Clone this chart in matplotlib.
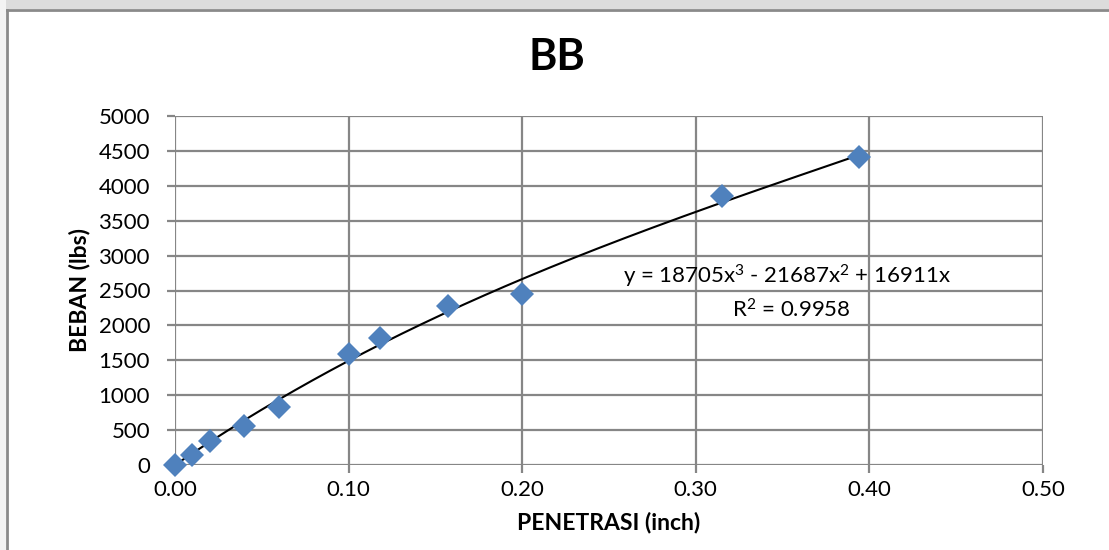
import numpy as np
import matplotlib.pyplot as plt
from matplotlib.patches import Rectangle

plt.rcParams['font.family'] = ['Lato', 'DejaVu Sans']
plt.rcParams['mathtext.fontset'] = 'custom'
plt.rcParams['mathtext.rm'] = 'Lato'
plt.rcParams['mathtext.it'] = 'Lato'

# data
penetrasi = [0.0, 0.01, 0.02, 0.04, 0.06, 0.10, 0.118, 0.157, 0.20, 0.315, 0.394]
beban = [0, 150, 345, 560, 830, 1590, 1815, 2280, 2450, 3855, 4415]

# trendline coefficients shown on the chart (3rd order, zero intercept)
coef = [18705, -21687, 16911, 0]
xticks = [0.0, 0.1, 0.2, 0.3, 0.4, 0.5]
yticks = list(range(0, 5001, 500))

fig = plt.figure(figsize=(11.09, 5.5), dpi=100)
fig.patch.set_facecolor('white')

# gray band and chart frame
fig.patches.append(Rectangle((0, 1 - 9 / 550), 1, 9 / 550, transform=fig.transFigure,
                             facecolor='#dcdcdc', edgecolor='none', zorder=0))
fig.patches.append(Rectangle((0, 0), 6 / 1109, 1, transform=fig.transFigure,
                             facecolor='#f3f3f3', edgecolor='none', zorder=0))
fig.add_artist(plt.Line2D([7 / 1109, 7 / 1109], [0, 1 - 10 / 550], transform=fig.transFigure,
                          color='#8a8a8a', lw=2))
fig.add_artist(plt.Line2D([7 / 1109, 1], [1 - 10 / 550, 1 - 10 / 550], transform=fig.transFigure,
                          color='#8a8a8a', lw=2))

ax = fig.add_axes([175 / 1109, 1 - 465 / 550, (1043 - 175) / 1109, (465 - 116) / 550])

xs = np.linspace(0, max(penetrasi), 200)
ax.plot(xs, np.polyval(coef, xs), color='black', lw=1.5, zorder=3)
ax.plot(penetrasi, beban, 'D', color='#4f81bd', markersize=12, markeredgewidth=0,
        zorder=4, clip_on=False)

ax.set_xlim(0, 0.5)
ax.set_ylim(0, 5000)
ax.set_xticks(xticks)
ax.set_xticklabels(['%.2f' % t for t in xticks])
ax.set_yticks(yticks)
ax.grid(True, color='#868686', lw=1.6)
ax.set_axisbelow(True)
for s in ax.spines.values():
    s.set_visible(False)
ax.tick_params(axis='both', length=6, width=1.6, color='#868686', labelsize=16)
ax.tick_params(axis='x', pad=5)
ax.tick_params(axis='y', pad=12)

ax.set_xlabel('PENETRASI (inch)', fontsize=16.5, fontweight='bold', labelpad=8)
ax.set_ylabel('BEBAN (lbs)', fontsize=16.5, fontweight='bold', labelpad=6)
fig.text(557 / 1109, 1 - 57 / 550, 'BB', fontsize=31, fontweight='bold', ha='center', va='center')

ax.text(0.3525, 2700, r'y = 18705x$^{3}$ - 21687x$^{2}$ + 16911x', fontsize=16,
        ha='center', va='center')
ax.text(0.355, 2225, r'R$^{2}$ = 0.9958', fontsize=16, ha='center', va='center')

fig.savefig('out.png', dpi=100)
